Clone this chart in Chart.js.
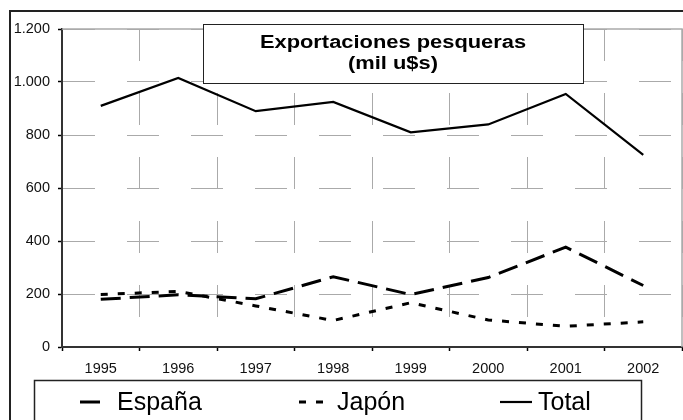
<!DOCTYPE html>
<html>
<head>
<meta charset="utf-8">
<script src="https://cdn.jsdelivr.net/npm/chart.js@4/dist/chart.umd.min.js"></script>
<style>
  html, body { margin: 0; padding: 0; background: #fff; }
  #wrap { width: 683px; height: 420px; }
</style>
</head>
<body>
<div id="wrap"><canvas id="exportChart" width="683" height="420"></canvas></div>
<script>
// Fish exports by destination, thousands of u$s
const years = ['1995', '1996', '1997', '1998', '1999', '2000', '2001', '2002'];
const espana = [180, 197, 182, 265, 198, 262, 377, 232];
const japon = [198, 210, 155, 100, 167, 102, 78, 95];
const total = [910, 1015, 890, 925, 810, 840, 955, 725];
const yTicks = [0, 200, 400, 600, 800, 1000, 1200];

const titleLines = ['Exportaciones pesqueras', '(mil u$s)'];

// Thousands separator with a dot: 1200 -> 1.200
function formatThousands(v) {
  return String(v).replace(/\B(?=(\d{3})+(?!\d))/g, '.');
}

// Frame, title box and the boxed legend along the bottom
const decorPlugin = {
  id: 'decor',
  beforeDatasetsDraw(chart) {
    const ctx = chart.ctx;
    const a = chart.chartArea;
    ctx.save();
    // light frame around the plot
    ctx.strokeStyle = '#aaaaaa';
    ctx.lineWidth = 1.5;
    ctx.beginPath();
    ctx.moveTo(a.left, a.top);
    ctx.lineTo(a.right, a.top);
    ctx.lineTo(a.right, a.bottom);
    ctx.stroke();

    // title box
    ctx.fillStyle = '#fff';
    ctx.fillRect(203, 24, 380, 59);
    ctx.strokeStyle = '#222';
    ctx.lineWidth = 1;
    ctx.strokeRect(203.5, 24.5, 380, 59);

    // title text, drawn a little wide
    ctx.fillStyle = '#000';
    ctx.font = 'bold 17.5px "Liberation Sans", Arial, sans-serif';
    ctx.textAlign = 'center';
    ctx.textBaseline = 'alphabetic';
    ctx.translate(393, 0);
    ctx.scale(1.25, 1);
    ctx.fillText(titleLines[0], 0, 48);
    ctx.fillText(titleLines[1], 0, 69);
    ctx.restore();
  },
  afterDraw(chart) {
    const ctx = chart.ctx;
    ctx.save();
    // outer chart border (top and left edges)
    ctx.strokeStyle = '#222';
    ctx.lineWidth = 2;
    ctx.beginPath();
    ctx.moveTo(10, 420);
    ctx.lineTo(10, 11);
    ctx.lineTo(683, 11);
    ctx.stroke();

    // legend box
    ctx.lineWidth = 1.5;
    ctx.strokeRect(34.5, 380.5, 607, 60);

    const symX = [80, 299, 500];
    const symLen = [22, 26, 32];
    const textX = [117, 337, 538];
    ctx.font = '25px "Liberation Sans", Arial, sans-serif';
    ctx.textBaseline = 'middle';
    ctx.textAlign = 'left';
    chart.data.datasets.forEach((ds, i) => {
      ctx.strokeStyle = ds.borderColor;
      ctx.lineWidth = ds.borderWidth;
      ctx.setLineDash(ds.borderDash || []);
      ctx.beginPath();
      ctx.moveTo(symX[i], 402);
      ctx.lineTo(symX[i] + symLen[i], 402);
      ctx.stroke();
      ctx.setLineDash([]);
      ctx.fillStyle = '#000';
      ctx.fillText(ds.label, textX[i], 403);
    });
    ctx.restore();
  }
};

const tickFont = { family: '"Liberation Sans", Arial, sans-serif', size: 14.5 };

const ctx = document.getElementById('exportChart').getContext('2d');
new Chart(ctx, {
  type: 'line',
  data: {
    labels: years,
    datasets: [
      {
        label: 'España',
        data: espana,
        borderColor: '#000',
        borderWidth: 3,
        borderDash: [20, 9],
        pointRadius: 0,
        tension: 0,
        fill: false
      },
      {
        label: 'Japón',
        data: japon,
        borderColor: '#000',
        borderWidth: 3,
        borderDash: [7, 10],
        pointRadius: 0,
        tension: 0,
        fill: false
      },
      {
        label: 'Total',
        data: total,
        borderColor: '#000',
        borderWidth: 2.2,
        pointRadius: 0,
        tension: 0,
        fill: false
      }
    ]
  },
  options: {
    responsive: false,
    animation: false,
    devicePixelRatio: 1,
    layout: { padding: { top: 29, right: 1, left: 0, bottom: 0 } },
    plugins: {
      legend: { display: false },
      title: { display: false },
      tooltip: { enabled: false }
    },
    scales: {
      x: {
        offset: true,
        afterFit: scale => { scale.height = 73; },
        grid: {
          offset: true,
          color: '#aaaaaa',
          lineWidth: 1,
          tickLength: 4,
          tickColor: '#000',
          tickWidth: 1.5,
          tickBorderDash: []
        },
        border: { color: '#333', width: 2, dash: [32, 32] },
        ticks: {
          color: '#111',
          padding: 9,
          maxRotation: 0,
          font: tickFont
        }
      },
      y: {
        min: 0,
        max: 1200,
        afterFit: scale => { scale.width = 62; },
        afterBuildTicks: scale => {
          scale.ticks = yTicks.map(v => ({ value: v }));
        },
        grid: {
          color: '#aaaaaa',
          lineWidth: 1,
          tickLength: 4,
          tickColor: '#000',
          tickWidth: 1.5,
          tickBorderDash: []
        },
        border: { color: '#333', width: 2, dash: [32, 32] },
        ticks: {
          color: '#111',
          padding: 8,
          font: tickFont,
          callback: value => formatThousands(value)
        }
      }
    }
  },
  plugins: [decorPlugin]
});
</script>
</body>
</html>
